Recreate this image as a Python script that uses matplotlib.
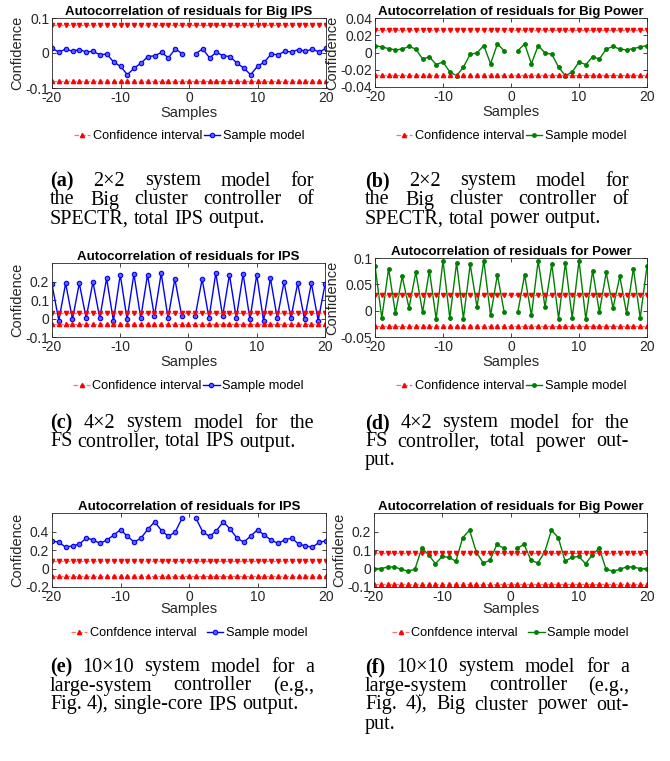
import numpy as np
import matplotlib
matplotlib.use('Agg')
from matplotlib import pyplot as plt

plt.rcParams['font.family'] = 'Liberation Sans'
plt.rcParams['axes.unicode_minus'] = False

# autocorrelation values for lags 1..20 (the plots are symmetric about lag 0)
acf_big_ips = [-0.002, 0.012, -0.014, 0.002, -0.008, -0.010, -0.029, -0.043, -0.062, -0.038,
               -0.026, -0.003, -0.005, 0.005, 0.003, 0.010, 0.005, 0.011, 0.003, 0.013]
acf_big_power = [0.002, 0.010, -0.013, 0.008, -0.0005, -0.002, -0.017, -0.027, -0.0225, -0.011,
                 -0.014, -0.005, -0.0075, 0.004, 0.007, 0.004, 0.003, 0.0045, 0.0065, 0.008]
acf_fs_ips = [0.016, 0.214, 0.002, 0.245, 0.0125, 0.237, 0.002, 0.241, -0.005, 0.237,
              -0.014, 0.218, 0.002, 0.198, 0.002, 0.191, -0.005, 0.191, -0.011, 0.184]
acf_fs_power = [-0.003, 0.068, -0.009, 0.095, 0.007, 0.088, -0.015, 0.091, -0.014, 0.095,
                -0.016, 0.076, -0.003, 0.073, 0.005, 0.065, -0.005, 0.080, -0.014, 0.085]
acf_large_ips = [0.545, 0.397, 0.347, 0.408, 0.505, 0.426, 0.329, 0.285, 0.350, 0.419,
                 0.361, 0.307, 0.271, 0.310, 0.329, 0.264, 0.245, 0.231, 0.282, 0.300]
acf_large_power = [0.110, 0.130, 0.044, 0.030, 0.088, 0.207, 0.167, 0.039, 0.060, 0.065,
                   0.026, 0.074, 0.110, -0.004, -0.014, -0.005, 0.009, 0.007, 0.000, 0.000]

conf_bounds = [0.081, 0.026, 0.031, 0.030, 0.085, 0.082]
titles = ['Autocorrelation of residuals for Big IPS', 'Autocorrelation of residuals for Big Power',
          'Autocorrelation of residuals for IPS', 'Autocorrelation of residuals for Power',
          'Autocorrelation of residuals for IPS', 'Autocorrelation of residuals for Big Power']
ylims = [(-0.1, 0.1), (-0.04, 0.04), (-0.1, 0.3), (-0.05, 0.1), (-0.2, 0.6), (-0.1, 0.3)]
yticks = [[-0.1, 0, 0.1], [-0.04, -0.02, 0, 0.02, 0.04], [-0.1, 0, 0.1, 0.2],
          [-0.05, 0, 0.05, 0.1], [-0.2, 0, 0.2, 0.4], [-0.1, 0, 0.1, 0.2]]
conf_labels = ['Confidence interval'] * 4 + ['Confdence interval'] * 2

captions = [
    ['(a) 2×2 system model for', 'the Big cluster controller of', 'SPECTR, total IPS output.'],
    ['(b) 2×2 system model for', 'the Big cluster controller of', 'SPECTR, total power output.'],
    ['(c) 4×2 system model for the', 'FS controller, total IPS output.'],
    ['(d) 4×2 system model for the', 'FS controller, total power out-', 'put.'],
    ['(e) 10×10 system model for a', 'large-system controller (e.g.,', 'Fig. 4), single-core IPS output.'],
    ['(f) 10×10 system model for a', 'large-system controller (e.g.,', 'Fig. 4), Big cluster power out-', 'put.'],
]

lags = np.arange(-20, 21)
all_acf = [acf_big_ips, acf_big_power, acf_fs_ips, acf_fs_power, acf_large_ips, acf_large_power]

W, H = 670, 761
fig = plt.figure(figsize=(W / 100, H / 100), dpi=100)

# axes boxes in pixels: left, top, right, bottom
boxes = [(52, 18, 326, 88), (375, 18, 647, 87),
         (52, 263, 325, 337), (375, 258, 647, 337),
         (52, 513, 326, 587), (374, 513, 647, 587)]
legend_y = [136, 136, 386, 386, 633, 633]
caption_y = [181, 181, 423, 423, 667, 667]
col_x = [(50, 314), (365, 629)]

gray = '#262626'
for i in range(6):
    l, t, r, b = boxes[i]
    ax = fig.add_axes([l / W, 1 - b / H, (r - l) / W, (b - t) / H])
    vals = all_acf[i]
    y = np.array(vals[::-1] + [np.nan] + vals)
    if i % 2 == 0:
        ln, = ax.plot(lags, y, '-o', color='#0000ff', lw=1, ms=3.2, mfc='#6060ff', mec='#0000ff',
                      mew=0.8, label='Sample model')
    else:
        ln, = ax.plot(lags, y, '-', marker='.', color='#008000', lw=1, ms=5, label='Sample model')
    c = conf_bounds[i]
    up, = ax.plot(lags, np.full(lags.shape, c), '--', color='#ff7070', lw=0.9, marker='v', ms=3,
                  mfc='red', mec='red', label=conf_labels[i])
    lo, = ax.plot(lags, np.full(lags.shape, -c), '--', color='#ff7070', lw=0.9, marker='^', ms=3,
                  mfc='red', mec='red', label=conf_labels[i])
    ax.set_xlim(-20, 20)
    ax.set_ylim(*ylims[i])
    ax.set_xticks([-20, -10, 0, 10, 20])
    ax.set_yticks(yticks[i])
    ax.set_yticklabels([('%g' % v) for v in yticks[i]])
    ax.tick_params(direction='in', length=3, width=0.6, top=True, right=True,
                   labelsize=10, colors=gray, pad=2)
    for s in ax.spines.values():
        s.set_color(gray)
        s.set_linewidth(0.6)
    ax.set_title(titles[i], fontsize=9.5, fontweight='bold', pad=2)
    pad = -1.5 if i >= 4 else 1
    ax.set_xlabel('Samples', fontsize=10.5, color=gray, labelpad=pad)
    ax.set_ylabel('Confidence', fontsize=10.5, color=gray, labelpad=1)
    cs = 0.8 if i >= 4 else 0.1
    fig.legend([lo, ln], [conf_labels[i], 'Sample model'], loc='center', ncol=2, frameon=False,
               fontsize=9.2, handlelength=1.3, handletextpad=0.2, columnspacing=cs,
               bbox_to_anchor=((l + r) / 2 / W, 1 - legend_y[i] / H))

# captions, justified like the paper's subfigure captions
renderer = fig.canvas.get_renderer()
cap_size = 14.5
line_h = 19
serif = 'Liberation Serif'


def text_width(s, weight='normal'):
    t = fig.text(0, 0, s, fontsize=cap_size, family=serif, fontweight=weight)
    w = t.get_window_extent(renderer).width
    t.remove()
    return w


space_w = text_width('a b') - text_width('ab')
for i in range(6):
    x0, x1 = col_x[i % 2]
    lines = captions[i]
    for k, line in enumerate(lines):
        yy = 1 - (caption_y[i] + k * line_h) / H
        words = line.split(' ')
        items = []
        for j, w in enumerate(words):
            weight = 'bold' if (k == 0 and j == 0) else 'normal'
            items.append(fig.text(x0 / W, yy, w, fontsize=cap_size, family=serif,
                                  fontweight=weight, va='center', ha='left'))
        widths = [it.get_window_extent(renderer).width for it in items]
        if k == len(lines) - 1 or len(words) == 1:
            gap = space_w
        else:
            gap = (x1 - x0 - sum(widths)) / (len(words) - 1)
        xx = x0
        for it, wd in zip(items, widths):
            it.set_x(xx / W)
            xx += wd + gap

fig.savefig('out.png', dpi=100)
